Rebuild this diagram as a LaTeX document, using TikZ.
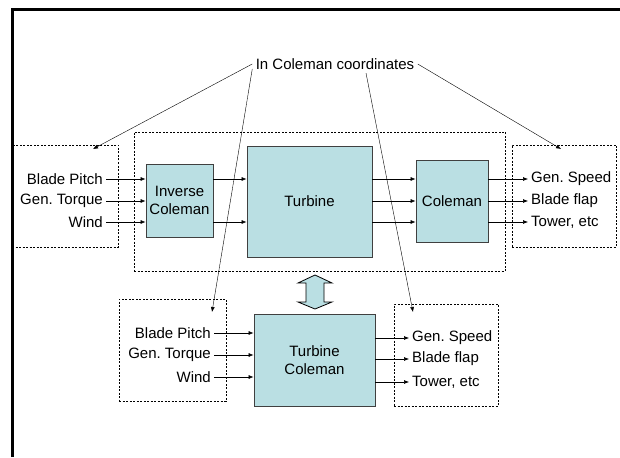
\documentclass[tikz,border=0pt]{standalone}
\usepackage{fontspec}
\setmainfont{Liberation Sans}
\usetikzlibrary{arrows.meta, positioning, calc}
\definecolor{boxfill}{RGB}{186,223,227}
\frenchspacing

\begin{document}
\begin{tikzpicture}[
    x=1pt, y=-1pt,
    every node/.style={font=\fontsize{15}{18}\selectfont},
    block/.style={rectangle, draw=black!75, line width=0.8pt, fill=boxfill, align=center, inner sep=0pt},
    group/.style={rectangle, draw, line width=0.8pt, dash pattern=on 2pt off 1.5pt, inner sep=0pt},
    lbl/.style={inner sep=3pt},
    arrow/.style={-{Latex[length=5pt, width=4pt]}, line width=0.6pt},
    pointer/.style={-{Latex[length=5pt, width=4pt]}, line width=0.4pt}
]
    \useasboundingbox (0,0) rectangle (620,457);
    \draw[line width=3pt] (12.5,457) -- (12.5,9.5) -- (620,9.5);

    % dotted groups
    \node[group, minimum width=106pt, minimum height=102pt] (inTop) at (65,196) {};
    \node[group, minimum width=371pt, minimum height=139pt] (plant) at (319.5,201.5) {};
    \node[group, minimum width=104pt, minimum height=102pt] (outTop) at (564,196) {};
    \node[group, minimum width=107pt, minimum height=102pt] (inBot) at (172.5,350) {};
    \node[group, minimum width=104pt, minimum height=102pt] (outBot) at (446,355) {};

    % blocks
    \node[block, minimum width=67pt, minimum height=73pt] (invcol) at (179.5,200.5) {Inverse\\Coleman};
    \node[block, minimum width=125pt, minimum height=111pt] (turbine) at (309.5,201.5) {Turbine};
    \node[block, minimum width=72pt, minimum height=82pt] (coleman) at (452,201) {Coleman};
    \node[block, minimum width=121pt, minimum height=92pt] (turbcol) at (314.5,360) {Turbine\\Coleman};

    \draw[draw=black, fill=boxfill, line width=0.8pt] (315,275) -- (332,283) -- (324,283) -- (324,302) -- (332,302)
        -- (315,309) -- (298,302) -- (306,302) -- (306,283) -- (298,283) -- cycle;

    % top inputs and outputs
    \node[lbl, anchor=east] (pitchA) at (106,179) {Blade Pitch};
    \node[lbl, anchor=east] (torqueA) at (106,201) {Gen. Torque};
    \node[lbl, anchor=east] (windA) at (106,222) {Wind};
    \node[lbl, anchor=west] (speedA) at (528,179) {Gen. Speed};
    \node[lbl, anchor=west] (flapA) at (528,201) {Blade flap};
    \node[lbl, anchor=west] (towerA) at (528,222) {Tower, etc};

    \draw[arrow] (pitchA.east) -- (pitchA -| invcol.west);
    \draw[arrow] (torqueA.east) -- (torqueA -| invcol.west);
    \draw[arrow] (windA.east) -- (windA -| invcol.west);
    \draw[arrow] ([yshift=21.5pt]invcol.east) -- ([yshift=21.5pt]invcol.east -| turbine.west);
    \draw[arrow] ([yshift=-21.5pt]invcol.east) -- ([yshift=-21.5pt]invcol.east -| turbine.west);
    \draw[arrow] ([yshift=22.5pt]turbine.east) -- ([yshift=22.5pt]turbine.east -| coleman.west);
    \draw[arrow] ([yshift=0.5pt]turbine.east) -- ([yshift=0.5pt]turbine.east -| coleman.west);
    \draw[arrow] ([yshift=-20.5pt]turbine.east) -- ([yshift=-20.5pt]turbine.east -| coleman.west);
    \draw[arrow] (speedA -| coleman.east) -- (speedA.west);
    \draw[arrow] (flapA -| coleman.east) -- (flapA.west);
    \draw[arrow] (towerA -| coleman.east) -- (towerA.west);

    % bottom inputs and outputs
    \node[lbl, anchor=east] (pitchB) at (214,333) {Blade Pitch};
    \node[lbl, anchor=east] (torqueB) at (214,355) {Gen. Torque};
    \node[lbl, anchor=east] (windB) at (214,377) {Wind};
    \node[lbl, anchor=west] (speedB) at (409,338) {Gen. Speed};
    \node[lbl, anchor=west] (flapB) at (409,359) {Blade flap};
    \node[lbl, anchor=west] (towerB) at (409,382) {Tower, etc};

    \draw[arrow] (pitchB.east) -- (pitchB -| turbcol.west);
    \draw[arrow] (torqueB.east) -- (torqueB -| turbcol.west);
    \draw[arrow] (windB.east) -- (windB -| turbcol.west);
    \draw[arrow] (speedB -| turbcol.east) -- (speedB.west);
    \draw[arrow] (flapB -| turbcol.east) -- (flapB.west);
    \draw[arrow] (towerB -| turbcol.east) -- (towerB.west);

    % annotation
    \node (note) at (335,64) {In Coleman coordinates};
    \coordinate (tipInTop) at (93,149);
    \coordinate (tipOutTop) at (561,149);
    \coordinate (tipInBot) at (212,312);
    \coordinate (tipOutBot) at (413,312);
    \draw[pointer] (note.west) -- (tipInTop);
    \draw[pointer] ([yshift=-5pt]note.west) -- (tipInBot);
    \draw[pointer] ([xshift=31pt]note.south) -- (tipOutBot);
    \draw[pointer] (note.east) -- (tipOutTop);
\end{tikzpicture}
\end{document}
